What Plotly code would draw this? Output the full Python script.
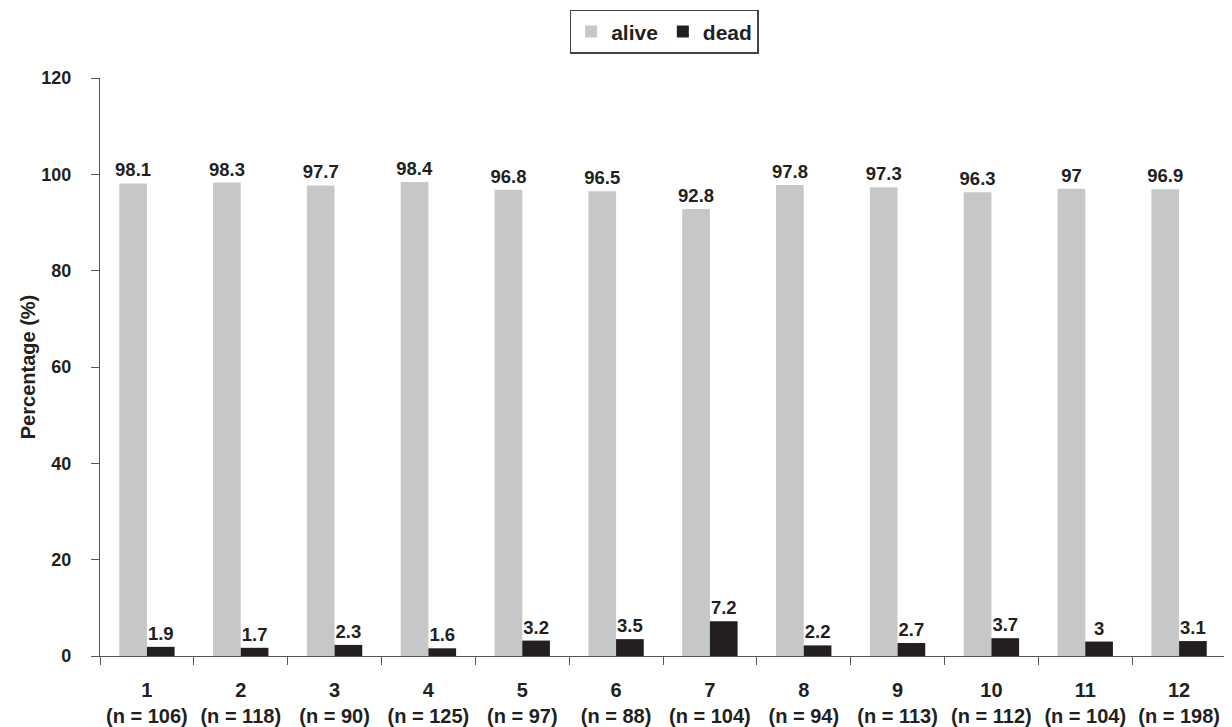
import plotly.graph_objects as go

groups = ["1", "2", "3", "4", "5", "6", "7", "8", "9", "10", "11", "12"]
n_values = [106, 118, 90, 125, 97, 88, 104, 94, 113, 112, 104, 198]
alive = [98.1, 98.3, 97.7, 98.4, 96.8, 96.5, 92.8, 97.8, 97.3, 96.3, 97, 96.9]
dead = [1.9, 1.7, 2.3, 1.6, 3.2, 3.5, 7.2, 2.2, 2.7, 3.7, 3, 3.1]
y_ticks = [0, 20, 40, 60, 80, 100, 120]

tick_text = [f"<b>{g}<br>(n = {n})</b>" for g, n in zip(groups, n_values)]

FONT = "Liberation Sans, Arial, sans-serif"
TXT = "#231f20"

fig = go.Figure()
fig.add_trace(go.Bar(
    x=groups, y=alive, name="<b>alive</b>",
    marker=dict(color="#c6c7c9", line=dict(width=0)),
    text=[str(v) for v in alive], texttemplate="<b>%{text}</b>",
    textposition="outside", cliponaxis=False,
    textfont=dict(family=FONT, size=18.5, color=TXT),
))
fig.add_trace(go.Bar(
    x=groups, y=dead, name="<b>dead</b>",
    marker=dict(color="#231f20", line=dict(width=0)),
    text=[str(v) for v in dead], texttemplate="<b>%{text}</b>",
    textposition="outside", cliponaxis=False,
    textfont=dict(family=FONT, size=18.5, color=TXT),
))

fig.update_layout(
    width=1224, height=719,
    paper_bgcolor="white", plot_bgcolor="white",
    margin=dict(l=92, r=6, t=70, b=71, autoexpand=False),
    barmode="group", bargap=0.41, bargroupgap=0,
    font=dict(family=FONT, size=18, color=TXT),
    showlegend=True,
    legend=dict(
        orientation="h", x=0.501, xanchor="center", y=1.08, yanchor="middle",
        bordercolor="#444444", borderwidth=1.5, bgcolor="white",
        font=dict(family=FONT, size=21, color=TXT),
        itemwidth=30, tracegroupgap=0,
    ),
    uniformtext=dict(minsize=18, mode="show"),
)
fig.update_xaxes(
    type="category", tickvals=groups, ticktext=tick_text,
    showline=True, linecolor="#555555", linewidth=1.2,
    ticks="outside", tickson="boundaries", ticklen=8, tickcolor="#555555",
    tickfont=dict(family=FONT, size=20, color=TXT),
    showgrid=False, zeroline=False, ticklabelstandoff=16, automargin=False,
)
fig.update_yaxes(
    range=[0, 120], tickvals=y_ticks, ticktext=[f"<b>{v}</b>" for v in y_ticks],
    showline=True, linecolor="#555555", linewidth=1.2,
    ticks="outside", ticklen=8, tickcolor="#555555",
    tickfont=dict(family=FONT, size=18, color=TXT),
    showgrid=False, zeroline=False, ticklabelstandoff=16, automargin=False,
    title=dict(text="<b>Percentage (%)</b>", font=dict(family=FONT, size=20, color=TXT), standoff=0),
)

fig.write_html("out.html")
